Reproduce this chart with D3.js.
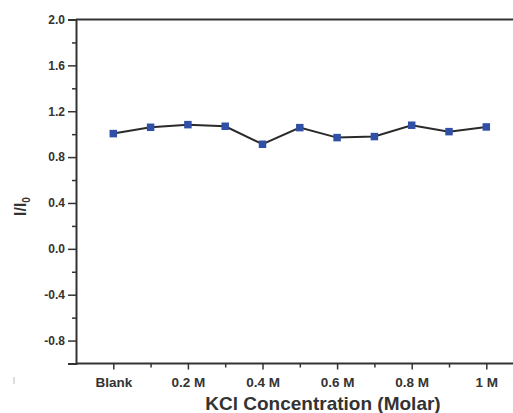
<!DOCTYPE html>
<html><head><meta charset="utf-8">
<script src="https://cdn.jsdelivr.net/npm/d3@7"></script>
<style>
body{margin:0;background:#fff;}
svg{display:block;}
text{font-family:"Liberation Sans",Arial,sans-serif;font-weight:bold;fill:#333;}
</style></head>
<body>
<svg id="c" width="513" height="413"></svg>
<script>
const categories = [0, 0.1, 0.2, 0.3, 0.4, 0.5, 0.6, 0.7, 0.8, 0.9, 1.0];
const values = [1.005, 1.06, 1.083, 1.069, 0.912, 1.057, 0.970, 0.979, 1.078, 1.022, 1.063];
const xTickValues = [0, 0.2, 0.4, 0.6, 0.8, 1.0];
const xTickLabels = ["Blank", "0.2 M", "0.4 M", "0.6 M", "0.8 M", "1 M"];
const xMinorTicks = [0.1, 0.3, 0.5, 0.7, 0.9];
const yTickValues = [2.0, 1.6, 1.2, 0.8, 0.4, 0.0, -0.4, -0.8];
const yMinorTicks = [1.8, 1.4, 1.0, 0.6, 0.2, -0.2, -0.6, -1.0];

const svg = d3.select("#c");
const x = d3.scaleLinear().domain([-0.1, 1.1]).range([76, 523.6]);
const y = d3.scaleLinear().domain([-1.0, 2.0]).range([363.5, 19.5]);
const axisColor = "#333";

// top border
svg.append("line").attr("x1", x(-0.1)).attr("x2", 513).attr("y1", y(2)).attr("y2", y(2))
  .attr("stroke", axisColor).attr("stroke-width", 2);

// y axis
const yAxis = d3.axisLeft(y).tickValues(yTickValues).tickSize(8).tickPadding(3)
  .tickFormat(d => d.toFixed(1));
const gy = svg.append("g").attr("transform", `translate(${x(-0.1)},0)`).call(yAxis);
gy.select(".domain").attr("stroke", axisColor).attr("stroke-width", 2);
gy.selectAll(".tick line").attr("stroke", axisColor).attr("stroke-width", 1.5);
gy.selectAll(".tick text").style("font-size", "12px").attr("fill", "#333");
const gym = svg.append("g").attr("transform", `translate(${x(-0.1)},0)`)
  .call(d3.axisLeft(y).tickValues(yMinorTicks).tickSize(4).tickFormat(""));
gym.select(".domain").remove();
gym.selectAll(".tick line").attr("stroke", axisColor).attr("stroke-width", 1.5);

// x axis
const xAxis = d3.axisBottom(x).tickValues(xTickValues).tickSize(6).tickPadding(8)
  .tickFormat((d, i) => xTickLabels[i]);
const gx = svg.append("g").attr("transform", `translate(0,${y(-1)})`).call(xAxis);
gx.select(".domain").attr("stroke", axisColor).attr("stroke-width", 2)
  .attr("d", `M${x(-0.1)},0H${x(1.1)}`);
gx.selectAll(".tick line").attr("stroke", axisColor).attr("stroke-width", 1.5);
gx.selectAll(".tick text").style("font-size", "13.5px").attr("fill", "#333");
const gxm = svg.append("g").attr("transform", `translate(0,${y(-1)})`)
  .call(d3.axisBottom(x).tickValues(xMinorTicks).tickSize(4).tickFormat(""));
gxm.select(".domain").remove();
gxm.selectAll(".tick line").attr("stroke", axisColor).attr("stroke-width", 1.5);

// line
const line = d3.line().x((d, i) => x(categories[i])).y(d => y(d));
svg.append("path").datum(values).attr("d", line).attr("fill", "none")
  .attr("stroke", "#2a2a2a").attr("stroke-width", 2);

// markers
const s = 7.5;
svg.selectAll("rect.pt").data(values).enter().append("rect").attr("class", "pt")
  .attr("x", (d, i) => x(categories[i]) - s / 2).attr("y", d => y(d) - s / 2)
  .attr("width", s).attr("height", s).attr("fill", "#2f50a6");

// axis titles
svg.append("text").attr("x", 323).attr("y", 410).attr("text-anchor", "middle")
  .style("font-size", "19px").attr("fill", "#333").text("KCl Concentration (Molar)");

const yt = svg.append("text").attr("transform", "translate(26,216) rotate(-90)")
  .style("font-size", "16px").attr("fill", "#222");
yt.append("tspan").text("I/I");
yt.append("tspan").attr("dy", 4).style("font-size", "10px").text("0");

// small artifact mark at left
svg.append("line").attr("x1", 14).attr("x2", 14).attr("y1", 377).attr("y2", 384)
  .attr("stroke", "#bbb").attr("stroke-width", 1);
</script>
</body></html>
